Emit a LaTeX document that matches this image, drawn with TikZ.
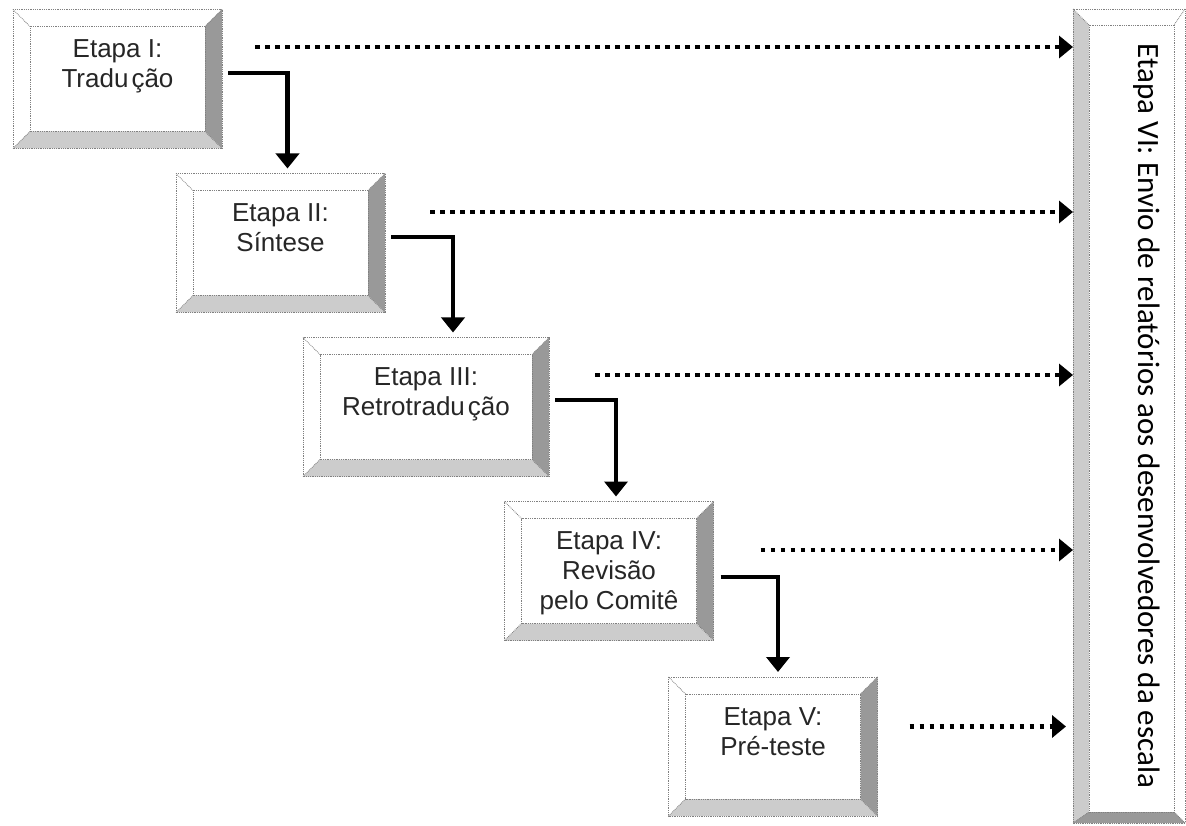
\documentclass[tikz,border=0pt]{standalone}
\usepackage{fontspec}
\setmainfont{Liberation Sans}
\newfontfamily\sidefont{Carlito}
\usetikzlibrary{arrows.meta}
\definecolor{faceDark}{gray}{0.6}
\definecolor{faceLight}{gray}{0.8}
\definecolor{edgeGray}{gray}{0.5}
\tikzset{
  stagebox/.style={inner sep=0pt, outer sep=0pt},
  stagetext/.style={anchor=north, inner sep=0pt, align=center, text=black!85,
    font=\fontsize{26}{30}\selectfont},
  bevel edge/.style={edgeGray, line width=0.8pt, densely dotted},
  elbow/.style={line width=4.5pt, -{Triangle[width=23pt,length=15pt]}},
  dotarrow/.style={line width=4.5pt, dash pattern=on 4.5pt off 5.5pt,
    -{Triangle[width=22pt,length=14pt]}},
}
% #1 box name, #2-#5 bevel left/top/right/bottom, #6-#9 fill left/top/right/bottom
\newcommand{\bevelbox}[9]{
  \coordinate (#1-a) at (#1.north west);
  \coordinate (#1-b) at (#1.north east);
  \coordinate (#1-c) at (#1.south east);
  \coordinate (#1-d) at (#1.south west);
  \coordinate (#1-A) at ([shift={(#2,#3)}]#1.north west);
  \coordinate (#1-B) at ([shift={(-#4,#3)}]#1.north east);
  \coordinate (#1-C) at ([shift={(-#4,-#5)}]#1.south east);
  \coordinate (#1-D) at ([shift={(#2,-#5)}]#1.south west);
  \fill[#6] (#1-d) -- (#1-a) -- (#1-A) -- (#1-D) -- cycle;
  \fill[#7] (#1-a) -- (#1-b) -- (#1-B) -- (#1-A) -- cycle;
  \fill[#8] (#1-b) -- (#1-c) -- (#1-C) -- (#1-B) -- cycle;
  \fill[#9] (#1-c) -- (#1-d) -- (#1-D) -- (#1-C) -- cycle;
  \draw[bevel edge] (#1-a) rectangle (#1-c);
  \draw[bevel edge] (#1-A) rectangle (#1-C);
  \draw[bevel edge] (#1-a) -- (#1-A);
  \draw[bevel edge] (#1-b) -- (#1-B);
  \draw[bevel edge] (#1-c) -- (#1-C);
  \draw[bevel edge] (#1-d) -- (#1-D);
}
\begin{document}
\begin{tikzpicture}[x=1pt,y=-1pt]
\useasboundingbox (0,0) rectangle (1186,826);
% the five stages
\node[stagebox, minimum width=209pt, minimum height=139pt] (e1) at (117.5,79) {};
\node[stagebox, minimum width=209pt, minimum height=139pt] (e2) at (280.5,243) {};
\node[stagebox, minimum width=246pt, minimum height=139pt] (e3) at (426,407) {};
\node[stagebox, minimum width=209pt, minimum height=139pt] (e4) at (609,571) {};
\node[stagebox, minimum width=209pt, minimum height=139pt] (e5) at (773,746.5) {};
\node[stagebox, minimum width=112pt, minimum height=814pt] (e6) at (1129,416) {};
\foreach \e in {e1,e2,e3,e4,e5}
  \bevelbox{\e}{17}{17}{17}{17}{white}{white}{faceDark}{faceLight};
\bevelbox{e6}{16}{16}{11}{11}{faceLight}{white}{white}{faceDark};
% labels
\node[stagetext] (t1) at ([yshift=-30pt]e1.north) {Etapa I:\\Tradu\hspace{3pt}ção};
\node[stagetext] (t2) at ([yshift=-30pt]e2.north) {Etapa II:\\Síntese};
\node[stagetext] (t3) at ([yshift=-30pt]e3.north) {Etapa III:\\Retrotradu\hspace{3pt}ção};
\node[stagetext] (t4) at ([yshift=-30pt]e4.north) {Etapa IV:\\Revisão\\pelo Comitê};
\node[stagetext] (t5) at ([yshift=-30pt]e5.north) {Etapa V:\\Pré-teste};
\node[rotate=-90, inner sep=0pt, text=black,
  font=\sidefont\fontsize{31}{36}\selectfont] (t6) at ([xshift=18pt]e6.center)
  {Etapa VI: Envio de relatórios aos desenvolvedores da escala};
% stage to stage
\draw[elbow] ([shift={(6,-6)}]e1.east) -| ([shift={(7,-5)}]e2.north);
\draw[elbow] ([shift={(6,-6)}]e2.east) -| ([shift={(27,-5)}]e3.north);
\draw[elbow] ([shift={(6,-7)}]e3.east) -| ([shift={(7,-5)}]e4.north);
\draw[elbow] ([shift={(7,6)}]e4.east) -| ([shift={(5,-5)}]e5.north);
% reports to stage VI
\coordinate (r1) at ([shift={(33,-32)}]e1.east);
\coordinate (r2) at ([shift={(45,-31)}]e2.east);
\coordinate (r3) at ([shift={(46,-32)}]e3.east);
\coordinate (r4) at ([shift={(47,-21)}]e4.east);
\coordinate (r5) at ([shift={(32,-20)}]e5.east);
\foreach \r in {r1,r2,r3,r4}
  \draw[dotarrow] (\r) -- (\r -| e6.west);
\draw[dotarrow] (r5) -- ([xshift=-7pt]r5 -| e6.west);
\end{tikzpicture}
\end{document}
